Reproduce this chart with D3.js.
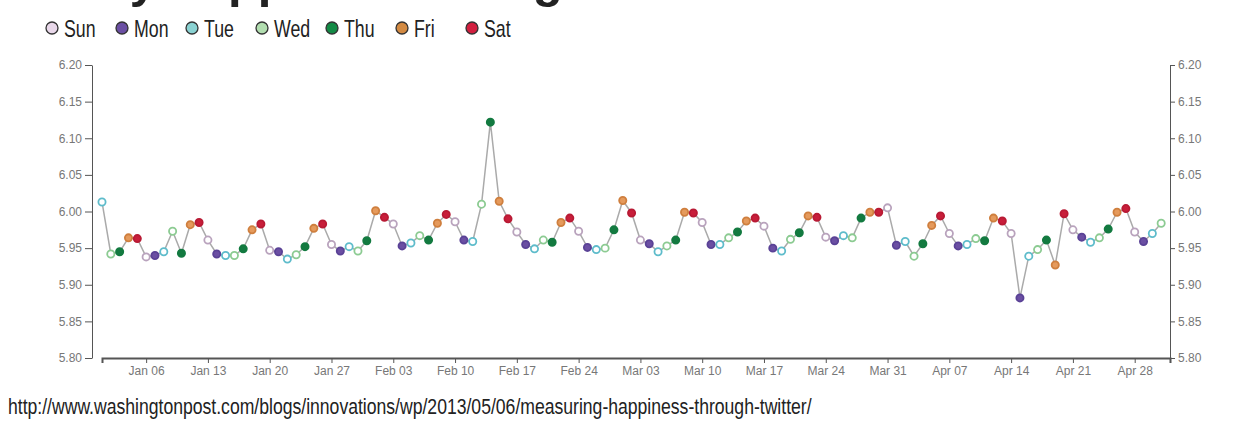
<!DOCTYPE html>
<meta charset="utf-8">
<script src="https://d3js.org/d3.v7.min.js"></script>
<style>
  body { margin: 0; background: #fff; }
  svg { display: block; }
</style>
<div id="chart"></div>
<script>
// day-of-week categories for the legend and colours
const dayNames = ["Sun", "Mon", "Tue", "Wed", "Thu", "Fri", "Sat"];
const dayFill = ["#ffffff", "#6b4fa3", "#ffffff", "#ffffff", "#137a40", "#e59a5c", "#c81e3a"];
const dayStroke = ["#b9a3bd", "#5a4296", "#5ebccb", "#8ccb92", "#137a40", "#cf7f3e", "#b81a34"];
const legendFill = ["#e9d8ea", "#6b4fa3", "#8ad2d2", "#b2deb0", "#138a45", "#d38a42", "#d21f3f"];

// daily happiness, one value per day starting Jan 1 2013 (through May 1)
const startDay = "2013-01-01";
const happiness = [
  6.013, 5.942, 5.945, 5.964, 5.963, 5.938, 5.940, 5.945, 5.973, 5.943,
  5.982, 5.985, 5.961, 5.942, 5.940, 5.940, 5.949, 5.975, 5.983, 5.947,
  5.945, 5.935, 5.941, 5.952, 5.977, 5.983, 5.955, 5.946, 5.952, 5.946,
  5.960, 6.001, 5.992, 5.983, 5.953, 5.957, 5.967, 5.961, 5.984, 5.996,
  5.986, 5.961, 5.959, 6.010, 6.122, 6.014, 5.990, 5.972, 5.955, 5.949,
  5.961, 5.958, 5.985, 5.991, 5.973, 5.951, 5.948, 5.950, 5.975, 6.015,
  5.998, 5.961, 5.956, 5.945, 5.953, 5.961, 5.999, 5.998, 5.985, 5.955,
  5.955, 5.964, 5.972, 5.987, 5.991, 5.980, 5.950, 5.946, 5.962, 5.971,
  5.994, 5.992, 5.965, 5.960, 5.967, 5.964, 5.991, 5.999, 5.999, 6.005,
  5.954, 5.959, 5.939, 5.956, 5.981, 5.994, 5.970, 5.953, 5.955, 5.963,
  5.960, 5.991, 5.987, 5.970, 5.882, 5.939, 5.948, 5.961, 5.927, 5.997,
  5.975, 5.965, 5.958, 5.964, 5.976, 5.999, 6.004, 5.972, 5.959, 5.970,
  5.984
];
const yTicks = [5.80, 5.85, 5.90, 5.95, 6.00, 6.05, 6.10, 6.15, 6.20];
const titleText = "Daily happiness ratings";
const sourceText = "http://www.washingtonpost.com/blogs/innovations/wp/2013/05/06/measuring-happiness-through-twitter/";

const W = 1237, H = 423;
const parseDay = d3.timeParse("%Y-%m-%d");
const first = parseDay(startDay);
const data = happiness.map((v, i) => ({date: d3.timeDay.offset(first, i), value: v}));

const svg = d3.select("#chart").append("svg")
  .attr("width", W)
  .attr("height", H);

// title, mostly cut off at the top of the picture
svg.append("text")
  .attr("x", 40)
  .attr("y", -3)
  .style("font-family", "Liberation Sans, Arial, sans-serif")
  .style("font-weight", "bold")
  .style("font-size", "49px")
  .style("fill", "#222")
  .text(titleText);

// legend (narrow type, squeezed horizontally)
const legend = svg.append("g")
  .selectAll("g")
  .data(dayNames)
  .join("g")
  .attr("transform", (d, i) => "translate(" + (52 + 70 * i) + ",28)");
legend.append("circle")
  .attr("r", 6)
  .attr("fill", (d, i) => legendFill[i])
  .attr("stroke", "#333")
  .attr("stroke-width", 1.3);
legend.append("text")
  .attr("transform", "translate(12,0) scale(0.74,1)")
  .attr("dy", "0.36em")
  .style("font-family", "Liberation Sans, Arial, sans-serif")
  .style("font-size", "24px")
  .style("fill", "#222")
  .text(d => d);

// scales
const x = d3.scaleTime()
  .domain([first, d3.timeDay.offset(first, happiness.length)])
  .range([102, 1170]);
const y = d3.scaleLinear()
  .domain([5.80, 6.20])
  .range([358, 65]);

const axisFont = g => g.selectAll("text")
  .style("font-family", "Liberation Sans, Arial, sans-serif")
  .style("font-size", "12px")
  .style("fill", "#777");

svg.append("g")
  .attr("transform", "translate(0,358)")
  .call(d3.axisBottom(x).ticks(d3.timeWeek.every(1)).tickFormat(d3.timeFormat("%b %d")).tickSize(5))
  .call(axisFont)
  .call(g => g.selectAll("path,line").attr("stroke", "#555"))
  .call(g => g.select(".domain").attr("stroke-width", 2));

svg.append("g")
  .attr("transform", "translate(92,0)")
  .call(d3.axisLeft(y).tickValues(yTicks).tickFormat(d3.format(".2f")).tickSize(7).tickSizeOuter(0))
  .call(axisFont)
  .call(g => g.selectAll("path,line").attr("stroke", "#555"));

svg.append("g")
  .attr("transform", "translate(1170,0)")
  .call(d3.axisRight(y).tickValues(yTicks).tickFormat(d3.format(".2f")).tickSize(5).tickSizeOuter(0))
  .call(axisFont)
  .call(g => g.selectAll("path,line").attr("stroke", "#555"));

// line and points
svg.append("path")
  .datum(data)
  .attr("fill", "none")
  .attr("stroke", "#aaa")
  .attr("stroke-width", 1.5)
  .attr("d", d3.line().x(d => x(d.date)).y(d => y(d.value)));

svg.append("g")
  .selectAll("circle")
  .data(data)
  .join("circle")
  .attr("cx", d => x(d.date))
  .attr("cy", d => y(d.value))
  .attr("r", 3.6)
  .attr("fill", d => dayFill[d.date.getDay()])
  .attr("stroke", d => dayStroke[d.date.getDay()])
  .attr("stroke-width", 1.8);

// source line
svg.append("text")
  .attr("transform", "translate(8,414) scale(0.8,1)")
  .style("font-family", "Liberation Sans, Arial, sans-serif")
  .style("font-size", "22px")
  .style("fill", "#222")
  .text(sourceText);
</script>
